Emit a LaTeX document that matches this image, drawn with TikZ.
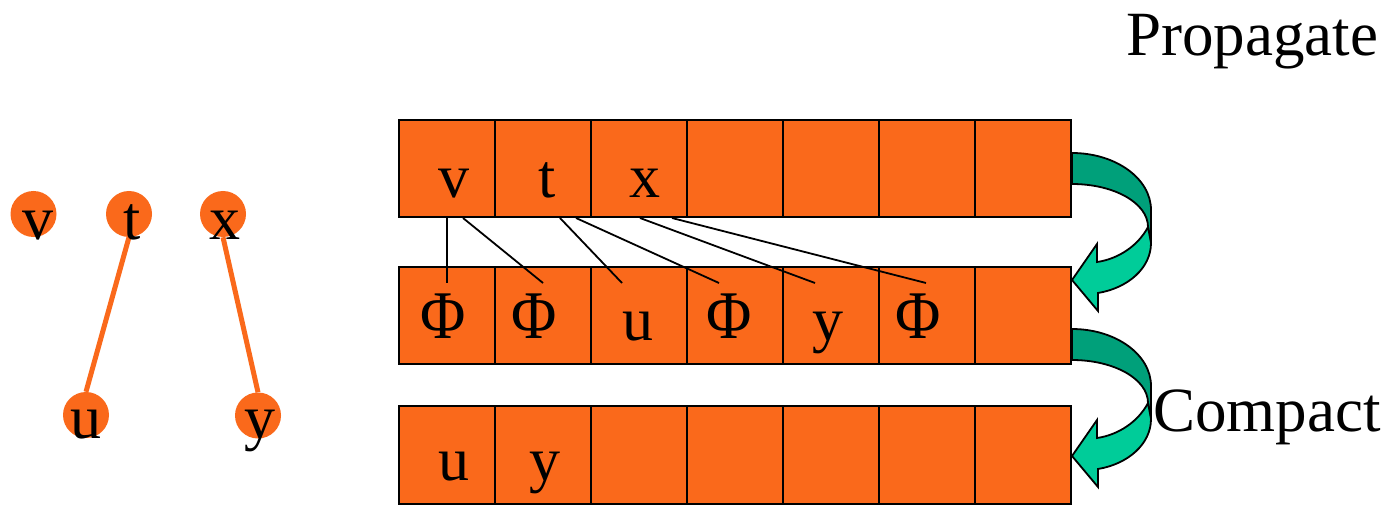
\documentclass[tikz,border=0pt]{standalone}
\usepackage{fontspec}
\setmainfont{Liberation Serif}
\definecolor{boxorange}{RGB}{250,105,27}
\definecolor{greendark}{RGB}{0,160,122}
\definecolor{greenlight}{RGB}{0,204,153}
\newcommand{\PhiTall}{\scalebox{1}[1.1]{Φ}}
\tikzset{
  curvarrow/.pic={
    \filldraw[fill=greendark,draw=black,line width=1.8pt]
      (1072,153) .. controls (1115.6,153) and (1151,178.5) .. (1151,210)
      -- (1151,243) -- (1148,227)
      .. controls (1148,203) and (1114,184) .. (1072,184) -- cycle;
    \filldraw[fill=greenlight,draw=black,line width=1.8pt,line join=miter]
      (1148,227) .. controls (1138,246) and (1118,259) .. (1097,262)
      -- (1097,244) -- (1072,280) -- (1098,311) -- (1098,293)
      .. controls (1128,288) and (1151,268) .. (1151,243) -- cycle;
  }
}
\begin{document}
\begin{tikzpicture}[x=1pt,y=-1pt,
  cell/.style={draw=black,line width=2pt,fill=boxorange,minimum width=96pt,
    minimum height=97pt,inner sep=0pt,outer sep=0pt,anchor=north west},
  lbl/.style={font=\fontsize{62}{70}\selectfont,inner sep=0pt,anchor=base},
  captiontext/.style={font=\fontsize{63}{70}\selectfont,inner sep=0pt,anchor=base west},
  vert/.style={circle,fill=boxorange,minimum size=46pt,inner sep=0pt},
  edgeline/.style={draw=boxorange,line width=5pt},
  link/.style={draw=black,line width=1.8pt}]
\useasboundingbox[fill=white] (0,0) rectangle (1389,505);

% rows of cells
\foreach \i in {1,...,7}{
  \node[cell] (ra\i) at ({399+96*(\i-1)},120.5) {};
  \node[cell] (rb\i) at ({399+96*(\i-1)},267) {};
  \node[cell,minimum height=98pt] (rc\i) at ({399+96*(\i-1)},406) {};
}

% curved arrows
\pic (arrA) at (0,0) {curvarrow};
\pic (arrB) at (0,176) {curvarrow};

% row texts
\node[lbl] (ta1) at (454,198) {v};
\node[lbl] (ta2) at (547,198) {t};
\node[lbl] (ta3) at (645,198) {x};

\node[lbl] (tb1) at (443,338) {\PhiTall};
\node[lbl] (tb2) at (534,338) {\PhiTall};
\node[lbl] (tb3) at (638,340) {u};
\node[lbl] (tb4) at (729,338) {\PhiTall};
\node[lbl] (tb5) at (828,340) {y};
\node[lbl] (tb6) at (918,338) {\PhiTall};

\node[lbl] (tc1) at (454,480) {u};
\node[lbl] (tc2) at (545,480) {y};

% connector lines
\coordinate (s1) at (447,218);  \coordinate (e1) at (447,283);
\coordinate (s2) at (463,218);  \coordinate (e2) at (543,283);
\coordinate (s3) at (560,218);  \coordinate (e3) at (622,283);
\coordinate (s4) at (576,218);  \coordinate (e4) at (719,283);
\coordinate (s5) at (640,218);  \coordinate (e5) at (815,283);
\coordinate (s6) at (672,218);  \coordinate (e6) at (926,283);
\foreach \k in {1,...,6}{ \draw[link] (s\k) -- (e\k); }

% left graph
\node[vert] (cv) at (33.5,214) {};
\node[vert] (ct) at (129,214) {};
\node[vert] (cx) at (223,214) {};
\node[vert] (cu) at (86,415) {};
\node[vert] (cy) at (258,415.5) {};
\draw[edgeline] (ct.south) -- (cu.north);
\draw[edgeline] (cx.south) -- (cy.north);
\node[lbl] (lv) at (37.5,240) {v};
\node[lbl] (lt) at (132.5,240) {t};
\node[lbl] (lx) at (225,240) {x};
\node[lbl] (lu) at (86,438) {u};
\node[lbl] (ly) at (260,438) {y};

% captions
\node[captiontext] (prop) at (1126,56) {Propagate};
\node[captiontext] (comp) at (1153,431) {Compact};
\end{tikzpicture}
\end{document}
